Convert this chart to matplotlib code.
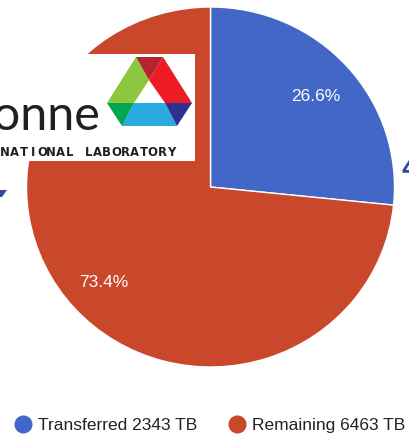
import matplotlib
matplotlib.use("Agg")
import matplotlib.pyplot as plt
from matplotlib.patches import Polygon, Rectangle
from matplotlib.lines import Line2D

# ---- data ----
categories = ["Transferred", "Remaining"]
values_tb = [2343, 6463]
colors = ["#4267c7", "#c9472a"]

W, H, DPI = 409, 434, 100
fig = plt.figure(figsize=(W / DPI, H / DPI), dpi=DPI)
fig.patch.set_facecolor("white")

# pie axes placed in pixel terms
cx, cy, Rx, Ry = 210.5, 187, 184, 180
pad = 1.02
ax = fig.add_axes([(cx - Rx * pad) / W, (H - cy - Ry * pad) / H, 2 * Rx * pad / W, 2 * Ry * pad / H])
wedges, texts, autotexts = ax.pie(
    values_tb, colors=colors, startangle=90, counterclock=False,
    autopct="%1.1f%%", pctdistance=0.77,
    wedgeprops=dict(edgecolor="white", linewidth=1.0),
    textprops=dict(color="white", fontsize=12.5, family="Liberation Sans"),
)
ax.set_aspect("auto")
ax.set_xlim(-pad, pad)
ax.set_ylim(-pad, pad)
x0, y0 = autotexts[0].get_position()
autotexts[0].set_position((x0, y0 - 0.012))
x1, y1 = autotexts[1].get_position()
autotexts[1].set_position((x1 - 0.01, y1 - 0.015))

# legend
handles = [Line2D([0], [0], marker="o", linestyle="none", markersize=12,
                  markerfacecolor=c, markeredgecolor=c) for c in colors]
labels = [f"{c} {v} TB" for c, v in zip(categories, values_tb)]
fig.legend(handles, labels, ncol=2, loc="center", bbox_to_anchor=(0.5 + 6 / W, 1 - 425 / H),
           frameon=False, handlelength=0.8, handletextpad=0.45, columnspacing=1.9,
           prop=dict(family="Liberation Sans", size=12.5), labelcolor="#222222",
           borderaxespad=0, borderpad=0)

# overlay (pixel coordinates) for the logo screenshot artefacts
ov = fig.add_axes([0, 0, 1, 1], zorder=5)
ov.set_xlim(0, W)
ov.set_ylim(H, 0)
ov.axis("off")
ov.patch.set_alpha(0)

ov.add_patch(Rectangle((0, 54), 195, 107, facecolor="white", edgecolor="none"))

A, B, C, D, E, F = (136, 57), (163, 57), (192, 103), (177, 126), (122, 126), (107, 103)
P, Q, Rr = (149, 80), (165, 103), (134, 103)
pieces = [
    ([F, A, P, Rr], "#8dc63f"),
    ([B, C, Q, P], "#ed1c24"),
    ([Rr, Q, D, E], "#29abe2"),
    ([A, B, P], "#b5232f"),
    ([F, Rr, E], "#00a651"),
    ([Q, C, D], "#2e3192"),
]
for pts, col in pieces:
    ov.add_patch(Polygon(pts, closed=True, facecolor=col, edgecolor="none"))

ov.text(101, 129, "Argonne", ha="right", va="baseline", fontsize=35,
        family="Lato", fontweight="normal", color="#231f20")
word = "ARGONNE NATIONAL LABORATORY"
adv = 9.25
xend = 176
for i, ch in enumerate(word):
    x = xend - (len(word) - 1 - i) * adv - adv / 2
    ov.text(x, 156, ch, ha="center", va="baseline", fontsize=8.4,
            family="DejaVu Sans", fontweight="bold", color="#231f20")

ov.text(401, 177, "4", ha="left", va="baseline", fontsize=21, fontweight="bold",
        family="Liberation Sans", color="#2e4a9a")
ov.add_patch(Polygon([(0, 190), (7, 190), (2, 197), (0, 197)], closed=True,
                     facecolor="#2e4a9a", edgecolor="none"))

fig.savefig("out.png", dpi=DPI)
